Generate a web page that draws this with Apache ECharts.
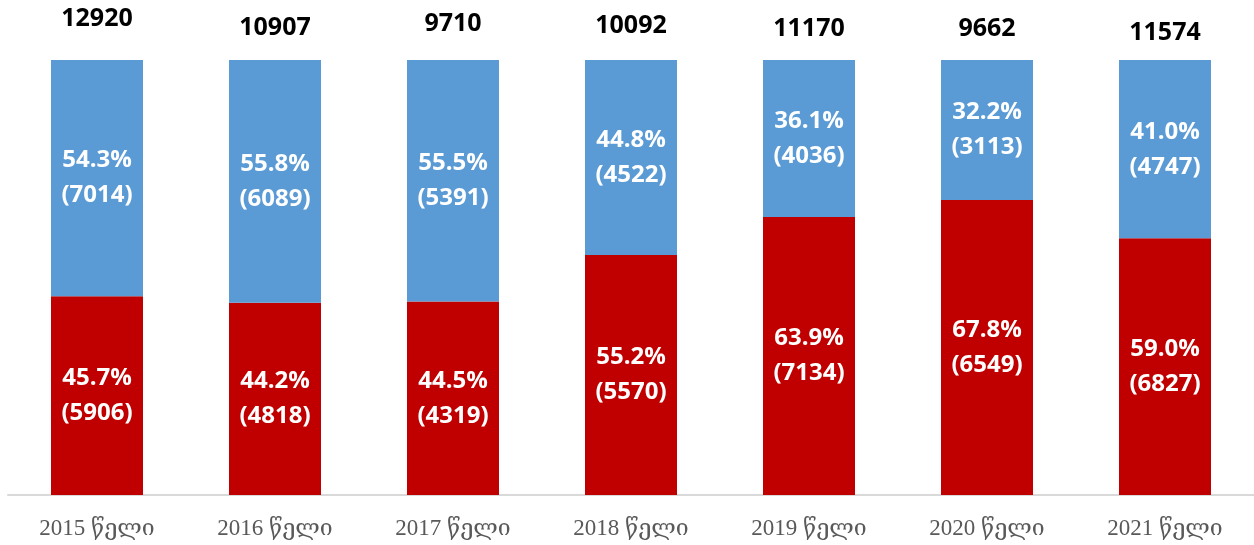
<!DOCTYPE html>
<html>
<head>
<meta charset="utf-8">
<script src="https://cdn.jsdelivr.net/npm/echarts@6/dist/echarts.min.js"></script>
<style>
  html, body { margin: 0; padding: 0; background: #fff; }
  #chart { width: 1254px; height: 545px; }
</style>
</head>
<body>
<div id="chart"></div>
<script>
const years = ['2015 წელი', '2016 წელი', '2017 წელი', '2018 წელი', '2019 წელი', '2020 წელი', '2021 წელი'];
const redPct = [45.7, 44.2, 44.5, 55.2, 63.9, 67.8, 59.0];
const bluePct = [54.3, 55.8, 55.5, 44.8, 36.1, 32.2, 41.0];
const redCount = [5906, 4818, 4319, 5570, 7134, 6549, 6827];
const blueCount = [7014, 6089, 5391, 4522, 4036, 3113, 4747];
const totals = [12920, 10907, 9710, 10092, 11170, 9662, 11574];

// vertical nudges of the total labels, as placed in the original
const totalShift = [-7, 2, -2, 0, 3, 3, 7];

const chart = echarts.init(document.getElementById('chart'));

const innerLabel = counts => ({
  show: true,
  position: 'inside',
  color: '#fff',
  fontFamily: 'Open Sans, Noto Sans, sans-serif',
  fontWeight: 'bold',
  fontSize: 24,
  lineHeight: 35,
  formatter: p => p.value.toFixed(1) + '%\n(' + counts[p.dataIndex] + ')'
});

const option = {
  backgroundColor: '#fff',
  animation: false,
  grid: { left: 8, right: 0, top: 60, bottom: 50 },
  xAxis: {
    type: 'category',
    data: years,
    axisLine: { lineStyle: { color: '#d9d9d9', width: 2 } },
    axisTick: { show: false },
    axisLabel: {
      color: '#595959',
      fontFamily: 'Liberation Serif, DejaVu Serif, serif',
      fontSize: 23,
      margin: 22
    }
  },
  yAxis: {
    type: 'value',
    min: 0,
    max: 100,
    show: false,
    splitLine: { show: false }
  },
  series: [
    {
      name: 'red',
      type: 'bar',
      stack: 'all',
      barWidth: 92,
      data: redPct,
      itemStyle: { color: '#c00000' },
      label: innerLabel(redCount)
    },
    {
      name: 'blue',
      type: 'bar',
      stack: 'all',
      barWidth: 92,
      data: bluePct,
      itemStyle: { color: '#5b9bd5' },
      label: innerLabel(blueCount)
    },
    {
      name: 'total',
      type: 'bar',
      stack: 'all',
      barWidth: 92,
      data: totals.map((t, i) => ({
        value: 0,
        label: { offset: [0, totalShift[i]] }
      })),
      itemStyle: { color: 'transparent' },
      label: {
        show: true,
        position: 'top',
        distance: 22,
        color: '#000',
        fontFamily: 'Open Sans, Noto Sans, sans-serif',
        fontWeight: 'bold',
        fontSize: 25,
        formatter: p => totals[p.dataIndex]
      }
    }
  ]
};

chart.setOption(option);
</script>
</body>
</html>
